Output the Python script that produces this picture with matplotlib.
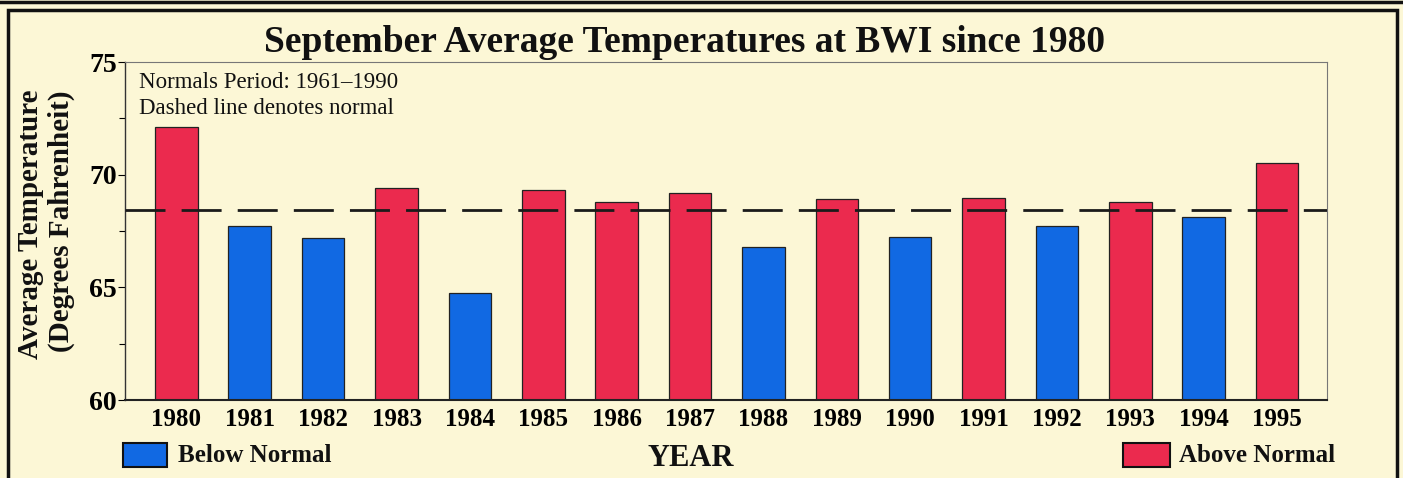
import matplotlib

matplotlib.use("Agg")
import matplotlib.pyplot as plt
from matplotlib.patches import Rectangle
import numpy as np

plt.rcParams["font.family"] = ["Liberation Serif", "DejaVu Serif"]

YEARS = list(range(1980, 1996))
TEMPS = [72.1, 67.7, 67.2, 69.4, 64.75, 69.3, 68.8, 69.2,
         66.8, 68.9, 67.25, 68.95, 67.7, 68.8, 68.1, 70.5]
NORMAL = 68.45

BG = "#fcf7d6"
RED = "#eb2a4e"
BLUE = "#1169e3"
INK = "#111111"

W, H = 1403, 478
fig = plt.figure(figsize=(W / 100, H / 100), dpi=100, facecolor=BG)


def px(x, y):
    # pixel position (from top-left) -> figure fraction
    return x / W, 1 - y / H


# panel frame
fig.add_artist(Rectangle((8 / W, -0.05), (1397 - 8) / W, (H - 10) / H + 0.05,
                         transform=fig.transFigure, fill=False,
                         edgecolor=INK, lw=2.5))
fig.add_artist(plt.Line2D([0, 1], [1 - 2 / H, 1 - 2 / H],
                          transform=fig.transFigure, color=INK, lw=2.5))

ax = fig.add_axes([125 / W, 1 - 400 / H, (1327 - 125) / W, (400 - 62) / H])
ax.set_facecolor(BG)

x = np.arange(len(YEARS))
colors = [RED if t > NORMAL else BLUE for t in TEMPS]
ax.bar(x, [t - 60 for t in TEMPS], bottom=60, width=0.58, color=colors,
       edgecolor="#222", linewidth=0.9, zorder=2)
ax.axhline(NORMAL, color="#1a1a1a", lw=2.0, dashes=(14.4, 5.8), zorder=3)

ax.set_xlim(-0.70, len(YEARS) - 1 + 0.68)
ax.set_ylim(60, 75)
ax.set_yticks([60, 65, 70, 75])
ax.set_yticks([62.5, 67.5, 72.5], minor=True)
ax.set_yticklabels(["60", "65", "70", "75"], fontsize=20, fontweight="bold")
ax.tick_params(axis="y", which="major", length=5, width=0.8, direction="out", pad=1)
ax.tick_params(axis="y", which="minor", length=4, width=0.8, direction="out")
ax.set_xticks(x)
ax.set_xticklabels([str(y) for y in YEARS], fontsize=18, fontweight="bold")
ax.tick_params(axis="x", length=0, pad=6)

for s in ("top", "right"):
    ax.spines[s].set_color("#777")
    ax.spines[s].set_linewidth(0.8)
ax.spines["left"].set_color("#333")
ax.spines["left"].set_linewidth(1.0)
ax.spines["bottom"].set_color("#222")
ax.spines["bottom"].set_linewidth(1.5)

fig.text(*px(139, 83), "Normals Period: 1961\u20131990", ha="left",
         va="center", fontsize=16.5, color=INK)
fig.text(*px(139, 108), "Dashed line denotes normal", ha="left",
         va="center", fontsize=16.5, color=INK)

fig.text(*px(685, 43), "September Average Temperatures at BWI since 1980",
         ha="center", va="center", fontsize=27, fontweight="bold", color=INK)
fig.text(*px(31, 224), "Average Temperature", ha="center", va="center",
         rotation=90, fontsize=21, fontweight="bold", color=INK)
fig.text(*px(61, 221), "(Degrees Fahrenheit)", ha="center", va="center",
         rotation=90, fontsize=21, fontweight="bold", color=INK)
fig.text(*px(691, 458), "YEAR", ha="center", va="center",
         fontsize=22, fontweight="bold", color=INK)

# legend
fig.add_artist(Rectangle(px(123, 467), 44 / W, 24 / H,
                         transform=fig.transFigure, facecolor=BLUE,
                         edgecolor=INK, lw=1.5))
fig.text(*px(178, 456), "Below Normal", ha="left", va="center",
         fontsize=18, fontweight="bold", color=INK)
fig.add_artist(Rectangle(px(1123, 467), 47 / W, 24 / H,
                         transform=fig.transFigure, facecolor=RED,
                         edgecolor=INK, lw=1.5))
fig.text(*px(1179, 456), "Above Normal", ha="left", va="center",
         fontsize=18, fontweight="bold", color=INK)

fig.savefig("out.png", dpi=100, facecolor=BG)
